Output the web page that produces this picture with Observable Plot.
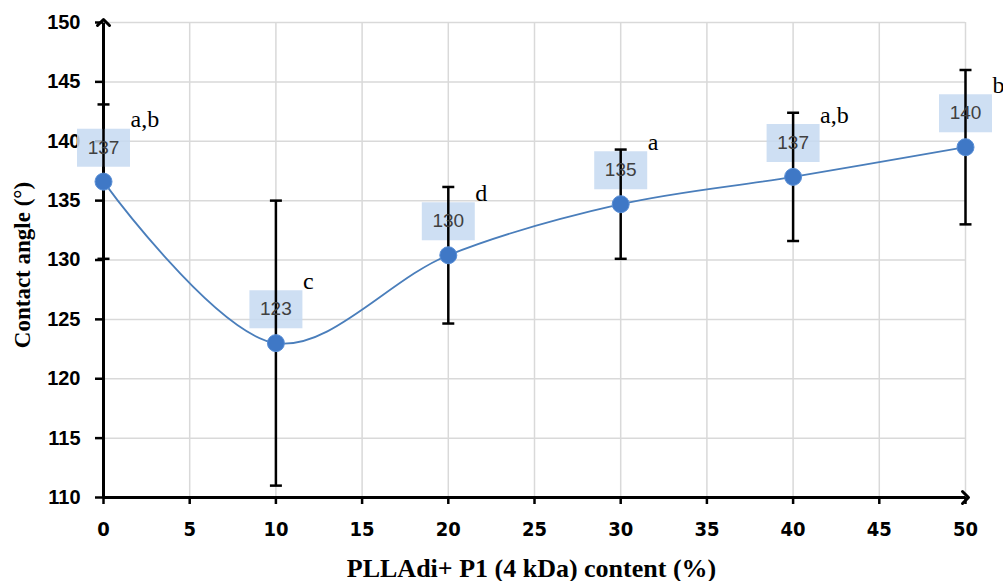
<!DOCTYPE html>
<html>
<head>
<meta charset="utf-8">
<script src="https://cdn.jsdelivr.net/npm/d3@7"></script>
<script src="https://cdn.jsdelivr.net/npm/@observablehq/plot@0.6"></script>
<style>
  html, body { margin: 0; padding: 0; background: #ffffff; }
  #chart svg { display: block; }
</style>
</head>
<body>
<div id="chart"></div>
<script>
// ---- Data ----
const contents = [0, 10, 20, 30, 40, 50];                 // PLLAdi+ P1 content (%)
const angles   = [136.6, 123.0, 130.4, 134.7, 137.0, 139.5]; // contact angle (°)
const errors   = [6.5, 12.0, 5.75, 4.6, 5.4, 6.5];          // ± error
const valueLabels = ["137", "123", "130", "135", "137", "140"];
const letters  = ["a,b", "c", "d", "a", "a,b", "b"];
const xTicks = [0, 5, 10, 15, 20, 25, 30, 35, 40, 45, 50];
const yTicks = [110, 115, 120, 125, 130, 135, 140, 145, 150];
const xTitle = "PLLAdi+ P1 (4 kDa) content (%)";
const yTitle = "Contact angle (°)";

const rows = contents.map((x, i) => ({
  x, y: angles[i], lo: angles[i] - errors[i], hi: angles[i] + errors[i],
  label: valueLabels[i], letter: letters[i]
}));

const xDomain = [xTicks[0], xTicks[xTicks.length - 1]];
const yDomain = [yTicks[0], yTicks[yTicks.length - 1]];

const boxSymbol = { draw(ctx) { ctx.rect(-26.5, -19, 53, 38); } };
const capSymbol = { draw(ctx) { ctx.moveTo(-6, 0); ctx.lineTo(6, 0); } };

const chart = Plot.plot({
  width: 1003,
  height: 581,
  marginLeft: 103,
  marginRight: 38,
  marginTop: 22,
  marginBottom: 84,
  style: { background: "#ffffff", overflow: "visible" },
  x: { domain: xDomain, ticks: xTicks },
  y: { domain: yDomain, ticks: yTicks },
  marks: [
    Plot.gridX(xTicks, { stroke: "#d9d9d9", strokeOpacity: 1, strokeWidth: 1.5 }),
    Plot.gridY(yTicks, { stroke: "#d9d9d9", strokeOpacity: 1, strokeWidth: 1.5 }),
    Plot.axisY(yTicks, {
      tickSize: 8, tickPadding: 15, label: null, strokeWidth: 2.5, stroke: "#000",
      fontSize: 20, fontWeight: "bold", fontFamily: "Liberation Sans, Arial, sans-serif", fill: "#000"
    }),
    Plot.axisX(xTicks, {
      tickSize: 7, tickPadding: 17, label: null, strokeWidth: 2.5, stroke: "#000",
      fontSize: 20, fontWeight: "bold", fontFamily: "Liberation Sans Narrow, DejaVu Sans Condensed, sans-serif", fill: "#000"
    }),
    // axis lines with arrows
    Plot.link([0], {
      x1: () => xDomain[0], x2: () => xDomain[0], y1: () => yDomain[0], y2: () => yDomain[1],
      stroke: "#000", strokeWidth: 3, markerEnd: "arrow"
    }),
    Plot.link([0], {
      x1: () => xDomain[0], x2: () => xDomain[1], y1: () => yDomain[0], y2: () => yDomain[0],
      stroke: "#000", strokeWidth: 3, markerEnd: "arrow"
    }),
    // data label boxes
    Plot.dot(rows, { x: "x", y: "y", symbol: boxSymbol, fill: "#c6d9f1", fillOpacity: 0.85, stroke: "none", dy: -34 }),
    // error bars
    Plot.link(rows, { x1: "x", x2: "x", y1: "lo", y2: "hi", stroke: "#000", strokeWidth: 2.5 }),
    Plot.dot(rows, { x: "x", y: "lo", symbol: capSymbol, stroke: "#000", strokeWidth: 2.5, fill: "none" }),
    Plot.dot(rows, { x: "x", y: "hi", symbol: capSymbol, stroke: "#000", strokeWidth: 2.5, fill: "none" }),
    // smoothed line
    Plot.line(rows, { x: "x", y: "y", curve: "catmull-rom", stroke: "#4a7ebb", strokeWidth: 1.8 }),
    // points
    Plot.dot(rows, { x: "x", y: "y", r: 8.5, fill: "#3f78c6", stroke: "#5a8fd6", strokeWidth: 1 }),
    // value labels
    Plot.text(rows, {
      x: "x", y: "y", text: "label", dy: -34, fill: "#404040",
      fontSize: 19, fontFamily: "Liberation Sans, Arial, sans-serif"
    }),
    // significance letters
    Plot.text(rows, {
      x: "x", y: "y", text: "letter", dx: 27, dy: -62, textAnchor: "start", fill: "#000",
      fontSize: 24, fontFamily: "Liberation Serif, Times New Roman, serif"
    }),
    // axis titles
    Plot.text([yTitle], {
      frameAnchor: "left", textAnchor: "middle", lineAnchor: "middle", rotate: -90, dx: -81, dy: 5,
      text: d => d, fill: "#000",
      fontSize: 23, fontWeight: "bold", fontFamily: "Liberation Serif, Times New Roman, serif"
    }),
    Plot.text([xTitle], {
      frameAnchor: "bottom", textAnchor: "middle", lineAnchor: "middle", dy: 71, dx: -3,
      text: d => d, fill: "#000",
      fontSize: 26, fontWeight: "bold", fontFamily: "Liberation Serif, Times New Roman, serif"
    })
  ]
});

document.getElementById("chart").appendChild(chart);
</script>
</body>
</html>
